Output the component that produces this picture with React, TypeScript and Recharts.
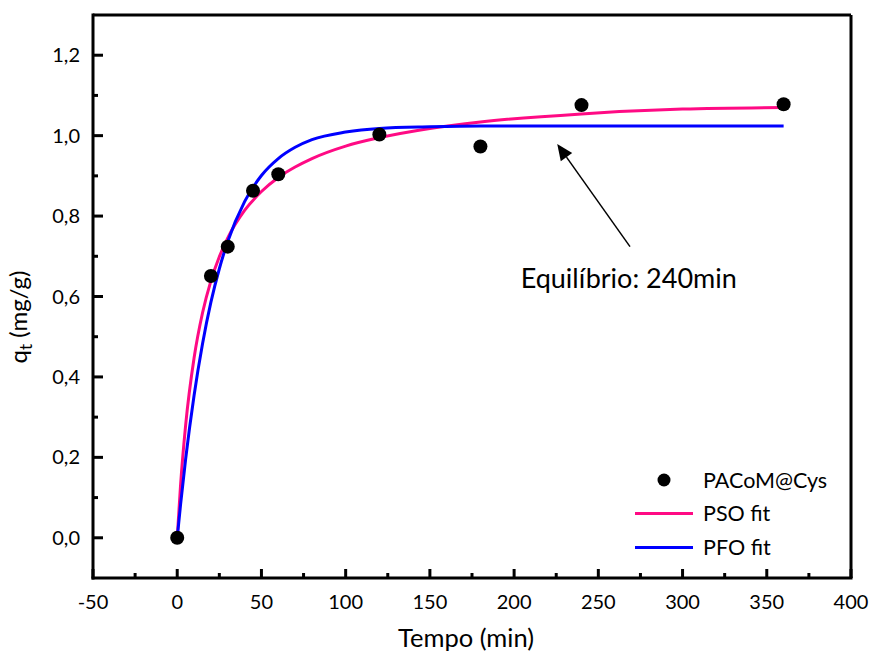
import React from 'react';
import {
  ComposedChart,
  Line,
  Scatter,
  XAxis,
  YAxis,
  Legend,
  ReferenceLine,
  ReferenceDot,
} from 'recharts';

// dados experimentais
const TIME = [0, 20, 30, 45, 60, 120, 180, 240, 360];
const QT = [0, 0.651, 0.724, 0.863, 0.904, 1.003, 0.973, 1.076, 1.078];

// curvas ajustadas
const FIT_TIME = [0, 2, 5, 10, 15, 20, 25, 30, 40, 50, 60, 70, 80, 100, 120, 150, 180, 240, 300, 360];
const PSO_FIT = [0, 0.132, 0.28, 0.447, 0.559, 0.639, 0.699, 0.746, 0.814, 0.861, 0.896, 0.922, 0.943, 0.974, 0.995, 1.018, 1.034, 1.054, 1.066, 1.07];
const PFO_FIT = [0, 0.083, 0.196, 0.354, 0.482, 0.586, 0.669, 0.737, 0.836, 0.901, 0.943, 0.971, 0.99, 1.009, 1.018, 1.022, 1.024, 1.024, 1.024, 1.024];

const X_TICKS = [-50, -25, 0, 25, 50, 75, 100, 125, 150, 175, 200, 225, 250, 275, 300, 325, 350, 375, 400];
const Y_TICKS = [0, 0.1, 0.2, 0.3, 0.4, 0.5, 0.6, 0.7, 0.8, 0.9, 1.0, 1.1, 1.2];

const SERIES = ['PACoM@Cys', 'PSO fit', 'PFO fit'];
const ANNOTATION = 'Equilíbrio: 240min';

const PINK = '#ff0a84';
const BLUE = '#0000ff';
const FONT = 'Lato, sans-serif';

const PLOT_LEFT = 93;
const PLOT_BOTTOM = 578;

const points = TIME.map((t, i) => ({ t, q: QT[i] }));
const fitData = FIT_TIME.map((t, i) => ({ t, pso: PSO_FIT[i], pfo: PFO_FIT[i] }));

const XTick = ({ x, payload }: any) => {
  const major = payload.value % 50 === 0;
  return (
    <g>
      <line x1={x} x2={x} y1={PLOT_BOTTOM} y2={PLOT_BOTTOM - (major ? 9 : 5)} stroke="#000" strokeWidth={3} />
      {major && (
        <text x={x} y={609} textAnchor="middle" fontSize={20} fontFamily={FONT} fill="#000">
          {payload.value}
        </text>
      )}
    </g>
  );
};

const YTick = ({ y, payload }: any) => {
  const major = Math.round(payload.value * 10) % 2 === 0;
  return (
    <g>
      <line x1={PLOT_LEFT} x2={PLOT_LEFT + (major ? 10 : 5)} y1={y} y2={y} stroke="#000" strokeWidth={3} />
      {major && (
        <text x={80} y={y + 7} textAnchor="end" fontSize={20} fontFamily={FONT} fill="#000">
          {payload.value.toFixed(1).replace('.', ',')}
        </text>
      )}
    </g>
  );
};

const LegendBox = () => (
  <svg width={240} height={110}>
    <circle cx={44} cy={20} r={6.5} fill="#000" />
    <line x1={15} x2={73} y1={53.5} y2={53.5} stroke={PINK} strokeWidth={3} />
    <line x1={15} x2={73} y1={87.5} y2={87.5} stroke={BLUE} strokeWidth={3} />
    {SERIES.map((s, i) => (
      <text key={s} x={83} y={27.5 + i * 33.7} fontSize={21.5} fontFamily={FONT} fill="#000">
        {s}
      </text>
    ))}
  </svg>
);

const Arrow = ({ x1, y1, x2, y2 }: any) => {
  const ang = Math.atan2(y2 - y1, x2 - x1);
  const len = 16;
  const half = 7;
  const bx = x2 - len * Math.cos(ang);
  const by = y2 - len * Math.sin(ang);
  const px = -Math.sin(ang) * half;
  const py = Math.cos(ang) * half;
  return (
    <g>
      <line x1={x1} y1={y1} x2={bx} y2={by} stroke="#000" strokeWidth={1.5} />
      <polygon points={`${x2},${y2} ${bx + px},${by + py} ${bx - px},${by - py}`} fill="#000" />
    </g>
  );
};

export default function App() {
  return (
    <div style={{ position: 'absolute', left: 0, top: 0 }}>
      <ComposedChart width={875} height={653} margin={{ top: 15, right: 24, bottom: 0, left: 0 }}>
        <XAxis
          type="number"
          dataKey="t"
          domain={[-50, 400]}
          ticks={X_TICKS}
          interval={0}
          height={75}
          axisLine={{ stroke: '#000', strokeWidth: 3, strokeLinecap: 'square' }}
          tickLine={false}
          tick={<XTick />}
          allowDataOverflow
          label={{
            content: () => (
              <text x={466} y={647} textAnchor="middle" fontSize={25.5} fontFamily={FONT} fill="#000">
                Tempo (min)
              </text>
            ),
          }}
        />
        <YAxis
          type="number"
          domain={[-0.1, 1.3]}
          ticks={Y_TICKS}
          interval={0}
          width={93}
          axisLine={{ stroke: '#000', strokeWidth: 3, strokeLinecap: 'square' }}
          tickLine={false}
          tick={<YTick />}
          allowDataOverflow
          label={{
            content: () => (
              <text transform="rotate(-90)" x={-317} y={27} textAnchor="middle" fontSize={24} fontFamily={FONT} fill="#000">
                q<tspan dy={5} fontSize={17}>t</tspan>
                <tspan dy={-5}> (mg/g)</tspan>
              </text>
            ),
          }}
        />
        <ReferenceLine y={1.3} stroke="#000" strokeWidth={3} />
        <ReferenceLine x={400} stroke="#000" strokeWidth={3} />
        <Scatter
          data={points}
          dataKey="q"
          fill="#000"
          isAnimationActive={false}
          shape={(p: any) => <circle cx={p.cx} cy={p.cy} r={7} fill="#000" />}
        />
        <Line data={fitData} dataKey="pso" type="monotone" stroke={PINK} strokeWidth={3} dot={false} isAnimationActive={false} />
        <Line data={fitData} dataKey="pfo" type="monotone" stroke={BLUE} strokeWidth={3} dot={false} isAnimationActive={false} />
        <ReferenceLine
          segment={[{ x: 268.8, y: 0.724 }, { x: 225.6, y: 0.979 }]}
          shape={<Arrow />}
        />
        <ReferenceDot
          x={203.9}
          y={0.645}
          r={0}
          stroke="none"
          fill="none"
          label={{
            content: (p: any) => (
              <text x={p.viewBox.x} y={p.viewBox.y + 9.5} fontSize={27} fontFamily={FONT} fill="#000">
                {ANNOTATION}
              </text>
            ),
          }}
        />
        <Legend
          layout="vertical"
          align="center"
          verticalAlign="middle"
          wrapperStyle={{ left: 620, top: 460, width: 240 }}
          content={<LegendBox />}
        />
      </ComposedChart>
    </div>
  );
}
